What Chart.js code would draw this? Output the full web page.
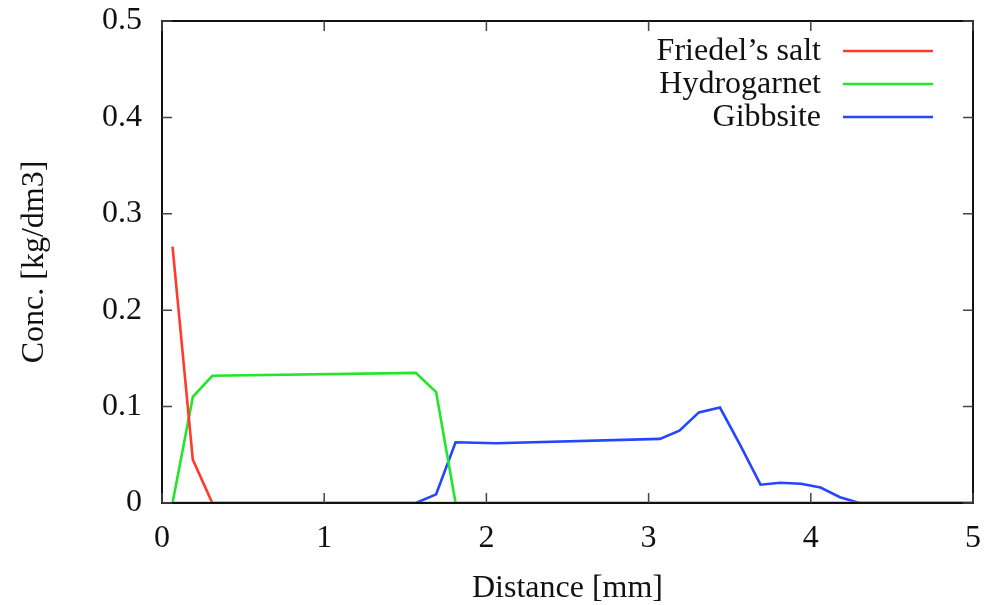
<!DOCTYPE html>
<html>
<head>
<meta charset="utf-8">
<script src="https://cdn.jsdelivr.net/npm/chart.js@4.4.0/dist/chart.umd.min.js"></script>
<style>
  html, body { margin: 0; padding: 0; background: #fff; }
  #wrap { width: 1001px; height: 605px; }
</style>
</head>
<body>
<div id="wrap"><canvas id="chart"></canvas></div>
<script>
// data
const friedelX = [0.065, 0.19, 0.31, 5];
const friedelY = [0.266, 0.045, 0, 0];
const hydroX = [0.065, 0.19, 0.31, 1.565, 1.69, 1.81, 5];
const hydroY = [0, 0.11, 0.132, 0.135, 0.115, 0, 0];
const gibbsX = [0.065, 1.565, 1.69, 1.81, 2.06, 3.07, 3.19, 3.31, 3.44, 3.565, 3.69, 3.81, 3.94, 4.06, 4.18, 4.30, 5];
const gibbsY = [0, 0, 0.009, 0.063, 0.062, 0.0665, 0.075, 0.094, 0.099, 0.06, 0.019, 0.021, 0.02, 0.016, 0.006, 0, 0];
const labels = ["Friedel’s salt", "Hydrogarnet", "Gibbsite"];
const xTicks = [0, 1, 2, 3, 4, 5];
const yTicks = [0, 0.1, 0.2, 0.3, 0.4, 0.5];

const RED = '#ff3b2b';
const GREEN = '#22e629';
const BLUE = '#2446ff';
const FONT = "'Liberation Serif', 'DejaVu Serif', serif";

const pts = (xs, ys) => xs.map((x, i) => ({ x: x, y: ys[i] }));

function series(label, data, color) {
  return {
    label: label,
    data: data,
    borderColor: color,
    backgroundColor: color,
    borderWidth: 2.6,
    pointRadius: 0,
    tension: 0,
    fill: false,
  };
}

// gnuplot-like frame, inward ticks and legend
const framePlugin = {
  id: 'frame',
  afterDatasetsDraw(chart) {
    const { ctx, chartArea: a, scales } = chart;
    ctx.save();
    ctx.strokeStyle = '#111';
    ctx.lineWidth = 2;
    ctx.strokeRect(a.left, a.top, a.right - a.left, a.bottom - a.top);
    ctx.lineWidth = 1.5;
    ctx.strokeStyle = '#444';
    const tl = 10;
    ctx.beginPath();
    xTicks.forEach(v => {
      const px = scales.x.getPixelForValue(v);
      ctx.moveTo(px, a.bottom); ctx.lineTo(px, a.bottom - tl);
      ctx.moveTo(px, a.top); ctx.lineTo(px, a.top + tl);
    });
    yTicks.forEach(v => {
      const py = scales.y.getPixelForValue(v);
      ctx.moveTo(a.left, py); ctx.lineTo(a.left + tl, py);
      ctx.moveTo(a.right, py); ctx.lineTo(a.right - tl, py);
    });
    ctx.stroke();

    // legend: text right aligned, sample line after it
    ctx.font = '32px ' + FONT;
    ctx.textAlign = 'right';
    ctx.textBaseline = 'middle';
    chart.data.datasets.forEach((ds, i) => {
      const y = a.top + 30 + i * 33;
      ctx.fillStyle = '#111';
      ctx.fillText(ds.label, a.right - 152, y + 1);
      ctx.strokeStyle = ds.borderColor;
      ctx.lineWidth = 2.6;
      ctx.beginPath();
      ctx.moveTo(a.right - 130, y);
      ctx.lineTo(a.right - 40, y);
      ctx.stroke();
    });
    ctx.restore();
  }
};

new Chart(document.getElementById('chart'), {
  type: 'line',
  data: {
    datasets: [
      series(labels[0], pts(friedelX, friedelY), RED),
      series(labels[1], pts(hydroX, hydroY), GREEN),
      series(labels[2], pts(gibbsX, gibbsY), BLUE),
    ]
  },
  options: {
    responsive: true,
    maintainAspectRatio: false,
    animation: false,
    layout: { padding: { left: 0, right: 28, top: 21, bottom: 0 } },
    plugins: {
      legend: { display: false },
      tooltip: { enabled: false },
    },
    scales: {
      x: {
        type: 'linear',
        min: 0, max: 5,
        afterFit: s => { s.height = 102; },
        afterBuildTicks: s => { s.ticks = xTicks.map(v => ({ value: v })); },
        grid: { display: false, drawTicks: false },
        border: { display: false },
        ticks: {
          color: '#111',
          font: { family: FONT, size: 32 },
          padding: 16,
          maxRotation: 0,
          callback: v => String(v),
        },
        title: {
          display: true,
          text: 'Distance [mm]',
          color: '#111',
          font: { family: FONT, size: 32, lineHeight: 1 },
          padding: { top: 7, bottom: 0 },
        },
      },
      y: {
        min: 0, max: 0.5,
        afterFit: s => { s.width = 162; s.paddingTop = 0; s.paddingBottom = 0; },
        afterBuildTicks: s => { s.ticks = yTicks.map(v => ({ value: v })); },
        grid: { display: false, drawTicks: false },
        border: { display: false },
        ticks: {
          color: '#111',
          font: { family: FONT, size: 32 },
          padding: 20,
          callback: v => String(Math.round(v * 10) / 10),
        },
        title: {
          display: true,
          text: 'Conc. [kg/dm3]',
          color: '#111',
          font: { family: FONT, size: 32, lineHeight: 1 },
          padding: { top: 19, bottom: 0 },
        },
      }
    }
  },
  plugins: [framePlugin]
});
</script>
</body>
</html>
